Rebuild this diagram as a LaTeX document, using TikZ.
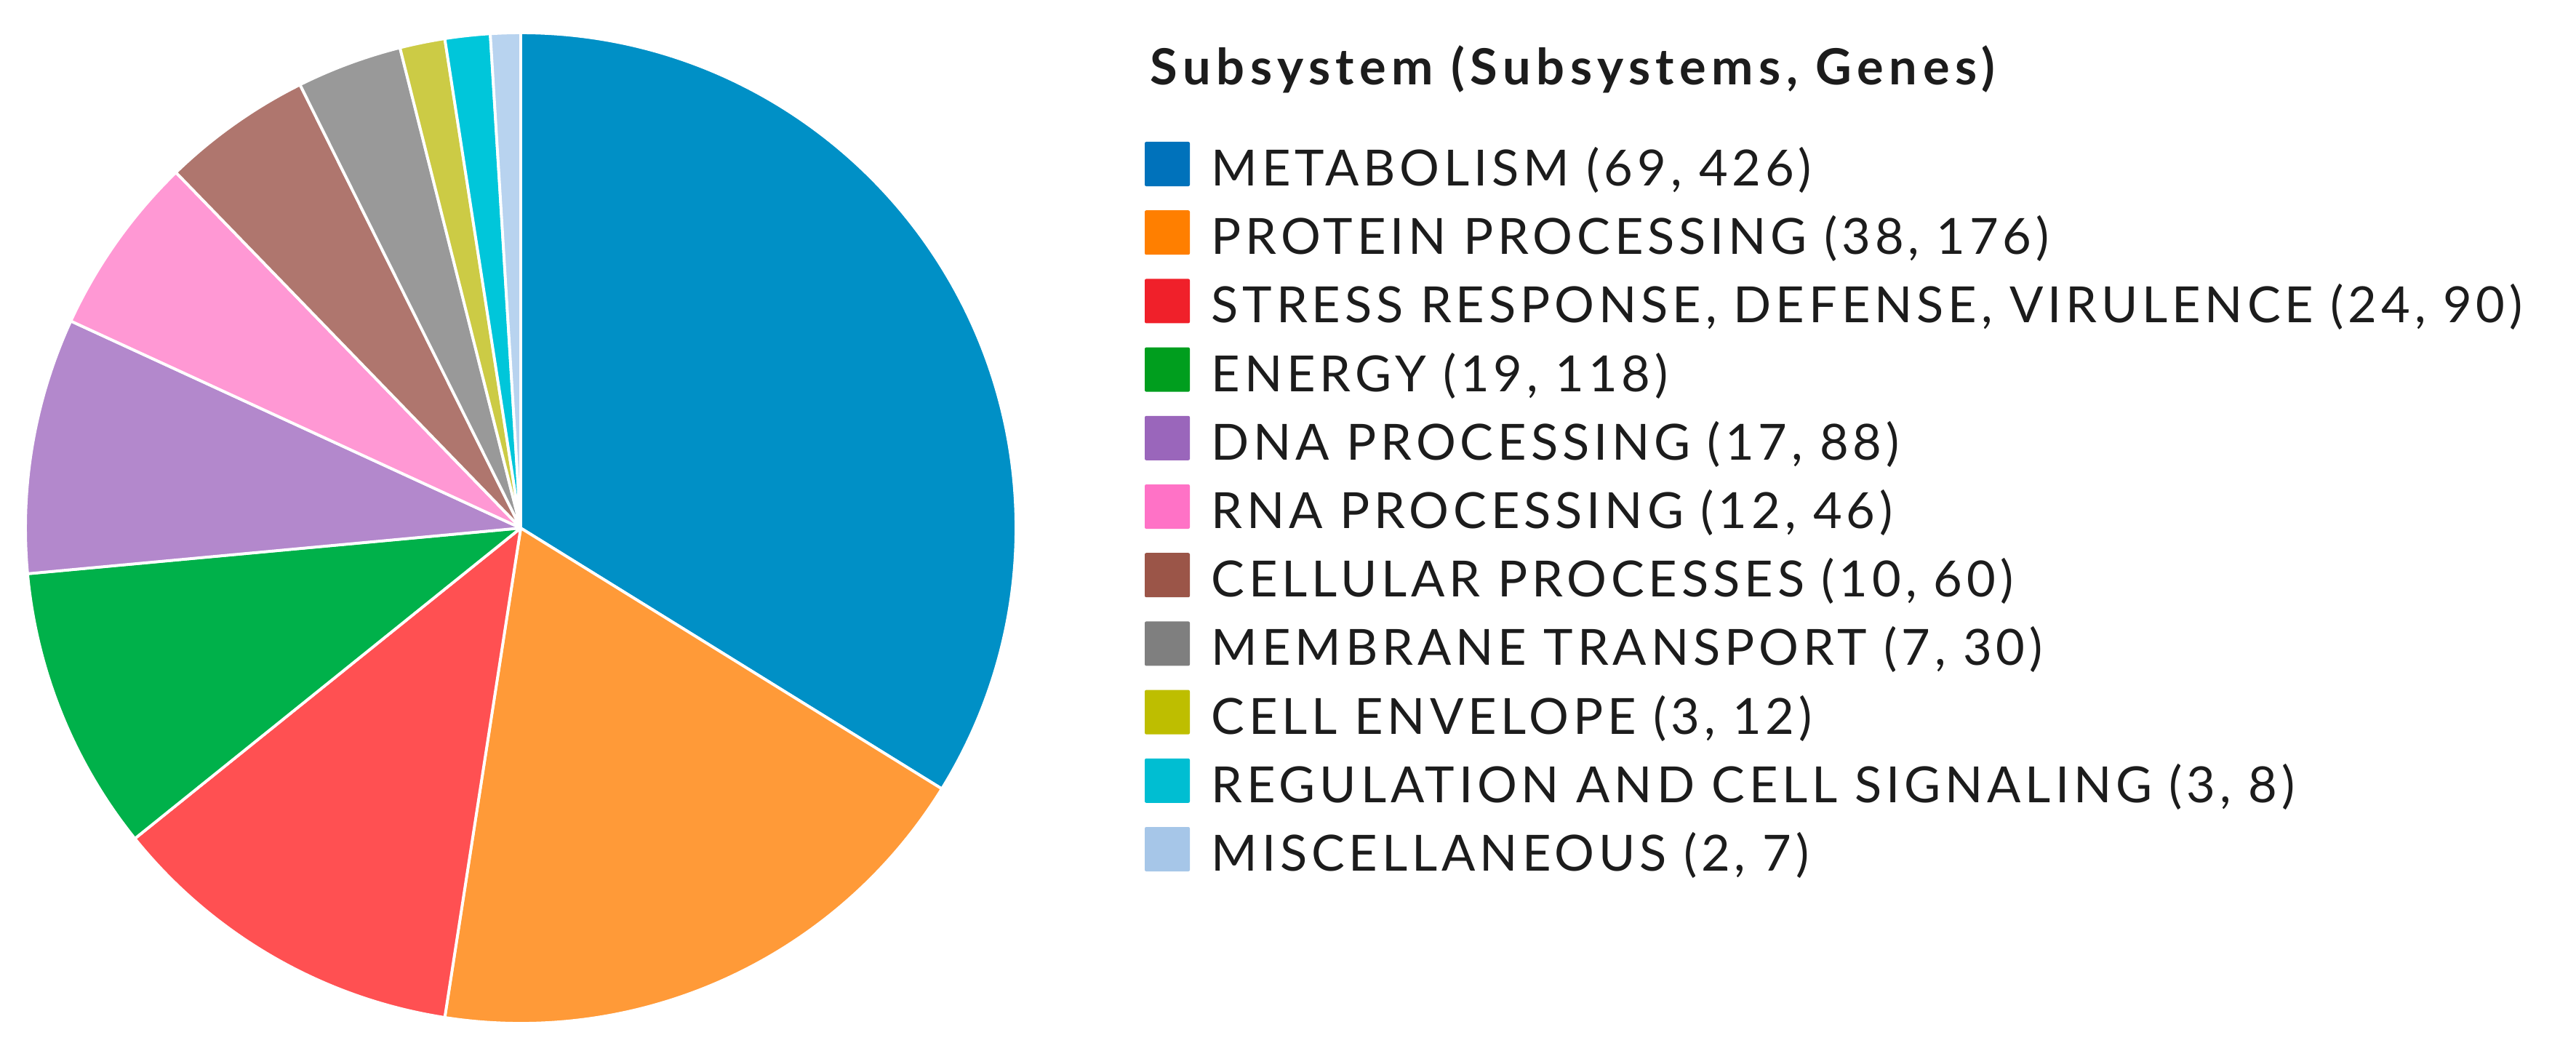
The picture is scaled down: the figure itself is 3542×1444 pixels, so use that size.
\documentclass[tikz,border=0pt]{standalone}
\usepackage{fontspec}
\usepackage{xcolor}
\setmainfont{Lato}
\newfontfamily\legendfont{Lato}[LetterSpace=8.5]
\newfontfamily\titlefont{Lato}[LetterSpace=11]
\definecolor{pieblue}{HTML}{0090C6}
\definecolor{pieorange}{HTML}{FF9A38}
\definecolor{piered}{HTML}{FF5052}
\definecolor{piegreen}{HTML}{00B14A}
\definecolor{piepurple}{HTML}{B388CC}
\definecolor{piepink}{HTML}{FF98D4}
\definecolor{piebrown}{HTML}{AF766E}
\definecolor{piegray}{HTML}{999999}
\definecolor{pieolive}{HTML}{CCCB45}
\definecolor{piecyan}{HTML}{00C6DA}
\definecolor{pielight}{HTML}{B8D3EF}
\definecolor{legblue}{HTML}{0072BB}
\definecolor{legorange}{HTML}{FF7F00}
\definecolor{legred}{HTML}{F0202A}
\definecolor{leggreen}{HTML}{009E1E}
\definecolor{legpurple}{HTML}{9A66BB}
\definecolor{legpink}{HTML}{FF72C6}
\definecolor{legbrown}{HTML}{9B5548}
\definecolor{leggray}{HTML}{7F7F7F}
\definecolor{legolive}{HTML}{BEBE00}
\definecolor{legcyan}{HTML}{00BED2}
\definecolor{leglight}{HTML}{A6C6E8}
\definecolor{legtext}{HTML}{1C1C1C}

\begin{document}
\begin{tikzpicture}[x=0.01cm,y=-0.01cm]
\tikzstyle{every node}+=[inner sep=0pt]
\tikzstyle{slice}=[draw=white, line width=1.1pt, line join=round]
\tikzstyle{swatch}=[minimum width=0.62cm, minimum height=0.61cm, rounded corners=0.6pt]
\tikzstyle{entry}=[anchor=base west, text=legtext, font=\legendfont\fontsize{19.5}{23}\selectfont]
\useasboundingbox (0,0) rectangle (3542,1444);
% pie, 204 subsystems
\begin{scope}[shift={(716,726)}, y=0.01cm]
\path [fill=pieblue, slice] (0,0) -- (90:681) arc[start angle=90, end angle=-31.765, radius=681] -- cycle;
\path [fill=pieorange, slice] (0,0) -- (-31.765:681) arc[start angle=-31.765, end angle=-98.824, radius=681] -- cycle;
\path [fill=piered, slice] (0,0) -- (-98.824:681) arc[start angle=-98.824, end angle=-141.176, radius=681] -- cycle;
\path [fill=piegreen, slice] (0,0) -- (-141.176:681) arc[start angle=-141.176, end angle=-174.706, radius=681] -- cycle;
\path [fill=piepurple, slice] (0,0) -- (-174.706:681) arc[start angle=-174.706, end angle=-204.706, radius=681] -- cycle;
\path [fill=piepink, slice] (0,0) -- (-204.706:681) arc[start angle=-204.706, end angle=-225.882, radius=681] -- cycle;
\path [fill=piebrown, slice] (0,0) -- (-225.882:681) arc[start angle=-225.882, end angle=-243.529, radius=681] -- cycle;
\path [fill=piegray, slice] (0,0) -- (-243.529:681) arc[start angle=-243.529, end angle=-255.882, radius=681] -- cycle;
\path [fill=pieolive, slice] (0,0) -- (-255.882:681) arc[start angle=-255.882, end angle=-261.176, radius=681] -- cycle;
\path [fill=piecyan, slice] (0,0) -- (-261.176:681) arc[start angle=-261.176, end angle=-266.471, radius=681] -- cycle;
\path [fill=pielight, slice] (0,0) -- (-266.471:681) arc[start angle=-266.471, end angle=-270, radius=681] -- cycle;
\end{scope}
% legend
\node [anchor=base west, text=legtext, font=\titlefont\fontsize{19.5}{23}\selectfont\bfseries] (legendtitle) at (1581,116) {Subsystem (Subsystems, Genes)};
\node [swatch, fill=legblue] (metabolism) at (1605,225.5) {};
\node [entry] (metabolismtext) at (1665,255.5) {METABOLISM (69, 426)};
\node [swatch, fill=legorange] (protein) at (1605,319.7) {};
\node [entry] (proteintext) at (1665,349.7) {PROTEIN PROCESSING (38, 176)};
\node [swatch, fill=legred] (stress) at (1605,413.9) {};
\node [entry] (stresstext) at (1665,443.9) {STRESS RESPONSE, DEFENSE, VIRULENCE (24, 90)};
\node [swatch, fill=leggreen] (energy) at (1605,508.1) {};
\node [entry] (energytext) at (1665,538.1) {ENERGY (19, 118)};
\node [swatch, fill=legpurple] (dna) at (1605,602.3) {};
\node [entry] (dnatext) at (1665,632.3) {DNA PROCESSING (17, 88)};
\node [swatch, fill=legpink] (rna) at (1605,696.5) {};
\node [entry] (rnatext) at (1665,726.5) {RNA PROCESSING (12, 46)};
\node [swatch, fill=legbrown] (cellular) at (1605,790.7) {};
\node [entry] (cellulartext) at (1665,820.7) {CELLULAR PROCESSES (10, 60)};
\node [swatch, fill=leggray] (membrane) at (1605,884.9) {};
\node [entry] (membranetext) at (1665,914.9) {MEMBRANE TRANSPORT (7, 30)};
\node [swatch, fill=legolive] (envelope) at (1605,979.1) {};
\node [entry] (envelopetext) at (1665,1009.1) {CELL ENVELOPE (3, 12)};
\node [swatch, fill=legcyan] (regulation) at (1605,1073.3) {};
\node [entry] (regulationtext) at (1665,1103.3) {REGULATION AND CELL SIGNALING (3, 8)};
\node [swatch, fill=leglight] (misc) at (1605,1167.5) {};
\node [entry] (misctext) at (1665,1197.5) {MISCELLANEOUS (2, 7)};
\end{tikzpicture}
\end{document}
